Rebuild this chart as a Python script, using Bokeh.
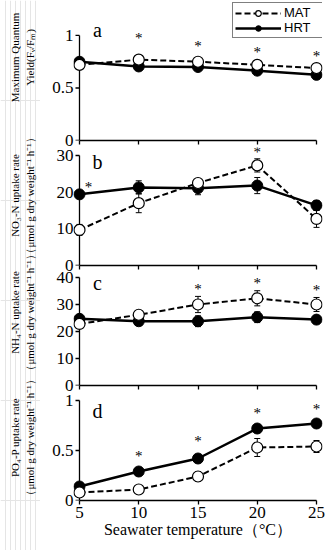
import math
from bokeh.plotting import figure
from bokeh.layouts import column, row
from bokeh.models import (ColumnDataSource, Whisker, TeeHead, FixedTicker, Range1d,
                          Legend, LegendItem, Label)
from bokeh.core.properties import value
from bokeh.embed import file_html
from bokeh.resources import INLINE

# ---------------- data ----------------
temps = [5, 10, 15, 20, 25]
x_ticks = [5, 10, 15, 20, 25]

# a: maximum quantum yield Fv/Fm
fv_mat = [0.72, 0.77, 0.75, 0.72, 0.69]
fv_mat_err = [0.02, 0.02, 0.02, 0.02, 0.02]
fv_hrt = [0.75, 0.705, 0.70, 0.665, 0.625]
fv_hrt_err = [0.02, 0.015, 0.015, 0.015, 0.02]
fv_star_x = [10, 15, 20, 25]
fv_star_y = [1.0, 0.93, 0.87, 0.83]
fv_ticks = [0, 0.5, 1]
fv_tick_labels = ["0", "0.5", "1"]

# b: NO3-N uptake rate
no3_mat = [9.7, 17.0, 22.5, 27.3, 12.7]
no3_mat_err = [1.5, 2.6, 1.0, 1.8, 2.3]
no3_hrt = [19.4, 21.3, 21.1, 21.8, 16.4]
no3_hrt_err = [1.0, 1.8, 1.8, 2.2, 1.3]
no3_star_x = [5.75, 20]
no3_star_y = [22.3, 31.8]
no3_ticks = [0, 10, 20, 30]
no3_tick_labels = ["0", "10", "20", "30"]

# c: NH4-N uptake rate
nh4_mat = [22.8, 26.2, 30.0, 32.3, 30.0]
nh4_mat_err = [1.0, 1.0, 3.0, 2.8, 2.6]
nh4_hrt = [24.7, 23.8, 23.8, 25.3, 24.4]
nh4_hrt_err = [1.0, 1.5, 2.0, 2.0, 1.5]
nh4_star_x = [15, 20, 25]
nh4_star_y = [37.0, 39.1, 36.4]
nh4_ticks = [0, 10, 20, 30, 40]
nh4_tick_labels = ["0", "10", "20", "30", "40"]

# d: PO4-P uptake rate
po4_mat = [0.08, 0.11, 0.24, 0.53, 0.54]
po4_mat_err = [0.02, 0.04, 0.05, 0.09, 0.06]
po4_hrt = [0.14, 0.29, 0.42, 0.72, 0.77]
po4_hrt_err = [0.02, 0.02, 0.03, 0.02, 0.04]
po4_star_x = [10, 15, 20, 25]
po4_star_y = [0.48, 0.63, 0.91, 0.95]
po4_ticks = [0, 0.5, 1]
po4_tick_labels = ["0", "0.5", "1"]

series_names = ["MAT", "HRT"]
x_title = "Seawater temperature（°C）"
unit_line = "（μmol g dry weight⁻¹ h⁻¹）"
titles = ["Maximum Quantum\nYield(Fᵥ/Fₘ)",
          "NO₃-N uptake rate\n" + unit_line,
          "NH₄-N uptake rate\n" + unit_line,
          "PO₄-P uptake rate\n" + unit_line]
letters = ["a", "b", "c", "d"]

# ---------------- style / layout ----------------
SERIF = "Liberation Serif"
SANS = "Liberation Sans"
X_START, X_END = 4.494, 25.506
LETTER_X = 6.52
TITLE_W = 40                     # width of the strip holding the y titles
TITLE_CX = 22                    # title block centre (px in strip)
TITLE_CY = [57, 195, 312, 437]   # title block centres (px from top)


def make_panel(mat, mat_err, hrt, hrt_err, star_x, star_y, y_end, ticks, tick_labels,
               letter, letter_y, frame_h, bottom_border, last):
    p = figure(frame_width=249, frame_height=frame_h,
               x_range=Range1d(X_START, X_END), y_range=Range1d(0, y_end),
               output_backend="svg", toolbar_location=None,
               min_border_left=33, min_border_right=14, min_border_top=0,
               min_border_bottom=bottom_border)
    p.outline_line_color = None
    p.grid.visible = False
    p.background_fill_color = "white"
    p.border_fill_color = "white"

    # y axis line and ticks drawn at the first temperature
    p.segment(x0=[temps[0]], y0=[ticks[0]], x1=[temps[0]], y1=[ticks[-1]],
              line_color="black", line_width=1.3)
    p.ray(x=[temps[0]] * len(ticks), y=ticks, length=4, length_units="screen",
          angle=math.pi, line_color="black", line_width=1.3)

    src_m = ColumnDataSource(dict(x=temps, y=mat,
                                  lo=[v - e for v, e in zip(mat, mat_err)],
                                  hi=[v + e for v, e in zip(mat, mat_err)]))
    src_h = ColumnDataSource(dict(x=temps, y=hrt,
                                  lo=[v - e for v, e in zip(hrt, hrt_err)],
                                  hi=[v + e for v, e in zip(hrt, hrt_err)]))
    for src in (src_h, src_m):
        p.add_layout(Whisker(source=src, base="x", lower="lo", upper="hi",
                             line_color="black", line_width=1,
                             upper_head=TeeHead(size=6, line_color="black", line_width=1),
                             lower_head=TeeHead(size=6, line_color="black", line_width=1)))

    hrt_line = p.line("x", "y", source=src_h, line_color="black", line_width=2.5)
    mat_line = p.line("x", "y", source=src_m, line_color="black", line_width=2,
                      line_dash="6 3")
    hrt_pts = p.scatter("x", "y", source=src_h, size=11, fill_color="black",
                        line_color="black", line_width=1)
    mat_pts = p.scatter("x", "y", source=src_m, size=11, fill_color="white",
                        line_color="black", line_width=1.2)

    p.text(x=star_x, y=star_y, text=["*"] * len(star_x),
           text_font=value(SERIF), text_font_size="15px",
           text_align="center", text_baseline="middle", y_offset=3,
           text_color="black")

    p.add_layout(Label(x=LETTER_X, y=letter_y, text=letter, text_font=SERIF,
                       text_font_size="20px", text_align="center",
                       text_baseline="middle", text_color="black"))

    # y axis: labels only (line and ticks drawn above)
    ya = p.yaxis[0]
    ya.ticker = FixedTicker(ticks=ticks)
    ya.major_label_overrides = {t: l for t, l in zip(ticks, tick_labels)}
    ya.major_label_text_font = SERIF
    ya.major_label_text_font_size = "17px"
    ya.major_label_text_color = "black"
    ya.major_label_standoff = 0
    ya.major_tick_in = 0
    ya.major_tick_out = 0
    ya.minor_tick_in = 0
    ya.minor_tick_out = 0
    ya.axis_line_color = None
    ya.major_tick_line_color = None
    ya.minor_tick_line_color = None

    # x axis
    xa = p.xaxis[0]
    xa.bounds = (5, 25)
    xa.ticker = FixedTicker(ticks=x_ticks)
    xa.major_tick_in = 0
    xa.major_tick_out = 4
    xa.minor_tick_in = 0
    xa.minor_tick_out = 0
    xa.axis_line_width = 1.3
    xa.axis_line_color = "black"
    xa.major_tick_line_color = "black"
    xa.major_tick_line_width = 1.3
    if last:
        xa.major_label_text_font = SERIF
        xa.major_label_text_font_size = "17px"
        xa.major_label_text_color = "black"
        xa.major_label_standoff = 2
        xa.axis_label = x_title
        xa.axis_label_text_font = SERIF
        xa.axis_label_text_font_size = "16px"
        xa.axis_label_text_font_style = "normal"
        xa.axis_label_text_color = "black"
        xa.axis_label_standoff = 0
    else:
        xa.major_label_text_font_size = "0px"
        xa.major_label_standoff = 0
        xa.major_label_overrides = {t: "" for t in x_ticks}
    return p, (mat_line, mat_pts, hrt_line, hrt_pts)


pa, ra = make_panel(fv_mat, fv_mat_err, fv_hrt, fv_hrt_err, fv_star_x, fv_star_y,
                    1.333, fv_ticks, fv_tick_labels, letters[0], 1.048, 140, 7, False)
pb, _ = make_panel(no3_mat, no3_mat_err, no3_hrt, no3_hrt_err, no3_star_x, no3_star_y,
                   32.18, no3_ticks, no3_tick_labels, letters[1], 28.1, 118, 6, False)
pc, _ = make_panel(nh4_mat, nh4_mat_err, nh4_hrt, nh4_hrt_err, nh4_star_x, nh4_star_y,
                   42.22, nh4_ticks, nh4_tick_labels, letters[2], 37.8, 114, 7, False)
pd, _ = make_panel(po4_mat, po4_mat_err, po4_hrt, po4_hrt_err, po4_star_x, po4_star_y,
                   1.08, po4_ticks, po4_tick_labels, letters[3], 0.90, 108, 50, True)

mat_line, mat_pts, hrt_line, hrt_pts = ra
legend = Legend(items=[LegendItem(label=series_names[0], renderers=[mat_line, mat_pts]),
                       LegendItem(label=series_names[1], renderers=[hrt_line, hrt_pts])],
                location=(159, 102), orientation="vertical",
                border_line_color="black", border_line_width=1,
                background_fill_color="white", background_fill_alpha=1,
                padding=2, spacing=0, margin=0,
                glyph_width=46, glyph_height=14, label_height=14, label_width=50,
                label_standoff=3, label_text_font=SANS, label_text_font_size="13px",
                label_text_color="black")
pa.add_layout(legend)

# strip with the y-axis titles
pt = figure(width=TITLE_W, height=550, x_range=Range1d(0, TITLE_W),
            y_range=Range1d(550, 0), output_backend="svg", toolbar_location=None,
            x_axis_location=None, y_axis_location=None,
            min_border_left=0, min_border_right=0, min_border_top=0, min_border_bottom=0)
pt.outline_line_color = None
pt.background_fill_color = "white"
pt.border_fill_color = "white"
for t, cy in zip(titles, TITLE_CY):
    pt.add_layout(Label(x=TITLE_CX, y=cy, text=t, angle=math.pi / 2,
                        text_font=SERIF, text_font_size="11px",
                        text_align="center", text_baseline="middle",
                        text_color="black"))

layout = row(pt, column(pa, pb, pc, pd, spacing=0), spacing=0)
open("out.html", "w").write(file_html(layout, INLINE))
